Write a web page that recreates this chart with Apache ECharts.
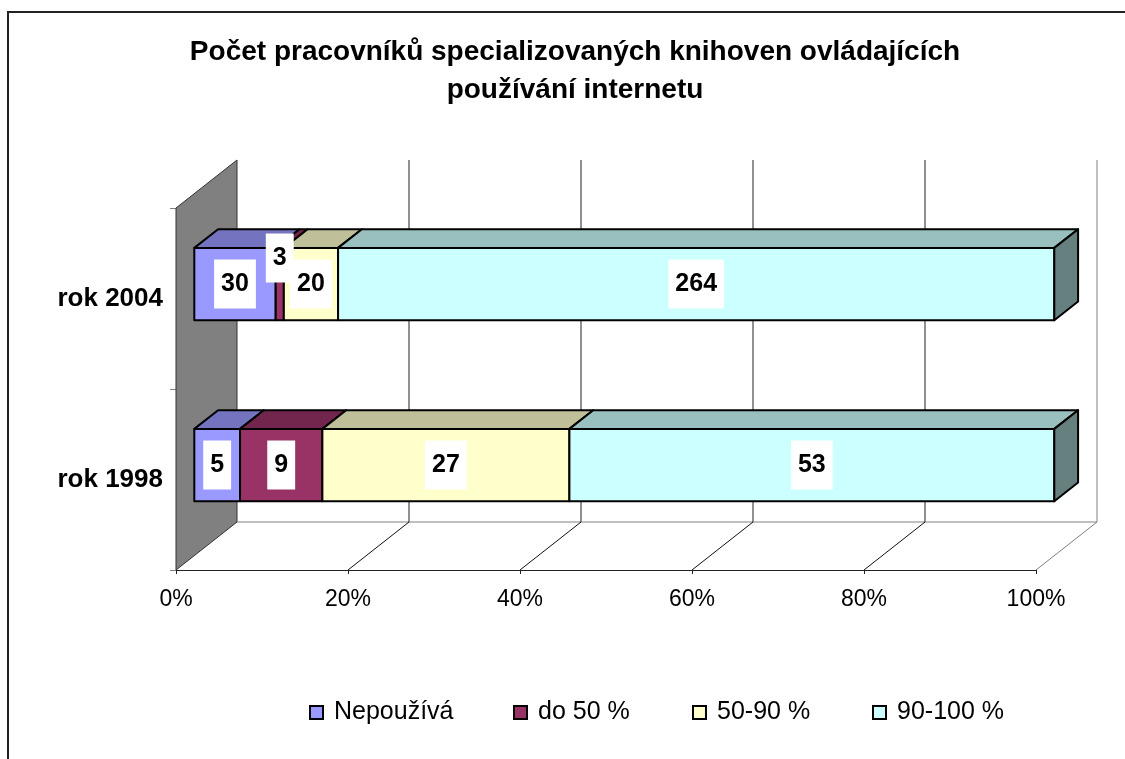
<!DOCTYPE html>
<html>
<head>
<meta charset="utf-8">
<title>Počet pracovníků specializovaných knihoven</title>
<script src="https://cdn.jsdelivr.net/npm/echarts@6/dist/echarts.min.js"></script>
<style>
  html, body { margin: 0; padding: 0; background: #fff; }
  #chart { width: 1125px; height: 759px; }
</style>
</head>
<body>
<div id="chart"></div>
<script>
// kategorie a řady (počty pracovníků)
const categories = ['rok 1998', 'rok 2004'];
const seriesNames = ['Nepoužívá', 'do 50 %', '50-90 %', '90-100 %'];
const nepouziva = [5, 30];
const do50 = [9, 3];
const od50do90 = [27, 20];
const od90do100 = [53, 264];
const xTicks = [0, 20, 40, 60, 80, 100];

const counts = [nepouziva, do50, od50do90, od90do100];
const FONT = '"Liberation Sans", Arial, sans-serif';

// barvy: čelo, horní plocha, bok
const frontColors = ['#9999FF', '#993366', '#FFFFCC', '#CCFFFF'];
const topColors = ['#7373BF', '#73264D', '#BFBF99', '#99BFBF'];
const sideColors = ['#4D4D80', '#4D1A33', '#808066', '#668080'];

// hloubka 3D (px) a poloha sloupce v hloubce
const DX = 61, DY = -48;
const FRONT = 0.3, DEPTH = 0.39;

const totals = categories.map((c, j) => counts.reduce((s, arr) => s + arr[j], 0));

// [start %, konec %, index kategorie, počet]
const segData = counts.map((arr, i) => arr.map((v, j) => {
  let start = 0;
  for (let k = 0; k < i; k++) start += counts[k][j];
  return [start / totals[j] * 100, (start + v) / totals[j] * 100, j, v];
}));
const labelData = [];
segData.forEach(rows => rows.forEach(r => labelData.push([(r[0] + r[1]) / 2, r[2], r[3], r[1] - r[0]])));

function renderWall(params, api) {
  const cs = params.coordSys;
  const v = api.value(0);
  const x = api.coord([v, 0])[0];
  const top = cs.y, bottom = cs.y + cs.height;
  const last = v === xTicks[xTicks.length - 1];
  const children = [];
  if (params.dataIndex === 0) {
    // levá boční stěna
    children.push({
      type: 'polygon',
      shape: { points: [[x, top], [x + DX, top + DY], [x + DX, bottom + DY], [x, bottom]] },
      style: { fill: '#808080', stroke: '#333', lineWidth: 1 }
    });
    children.push({
      type: 'line',
      shape: { x1: x + DX, y1: bottom + DY, x2: cs.x + cs.width + DX, y2: bottom + DY },
      style: { stroke: '#808080', lineWidth: 1 }
    });
  } else {
    children.push({
      type: 'line',
      shape: { x1: x + DX, y1: top + DY, x2: x + DX, y2: bottom + DY },
      style: { stroke: last ? '#808080' : '#222', lineWidth: 1 }
    });
    children.push({
      type: 'line',
      shape: { x1: x, y1: bottom, x2: x + DX, y2: bottom + DY },
      style: { stroke: last ? '#808080' : '#111', lineWidth: 1 }
    });
  }
  return { type: 'group', children: children };
}

function renderBar(si) {
  return function (params, api) {
    const cat = api.value(2);
    const a = api.coord([api.value(0), cat]);
    const b = api.coord([api.value(1), cat]);
    const h = api.size([0, 1])[1] * 0.4;
    const ox = DX * FRONT, oy = DY * FRONT;
    const bx = DX * DEPTH, by = DY * DEPTH;
    const x0 = a[0] + ox, x1 = b[0] + ox;
    const yt = a[1] + oy - h / 2, yb = a[1] + oy + h / 2;
    const line = { stroke: '#000', lineWidth: 2, lineJoin: 'round' };
    const children = [
      {
        type: 'polygon',
        shape: { points: [[x0, yt], [x1, yt], [x1 + bx, yt + by], [x0 + bx, yt + by]] },
        style: Object.assign({ fill: topColors[si] }, line)
      },
      {
        type: 'rect',
        shape: { x: x0, y: yt, width: x1 - x0, height: yb - yt },
        style: Object.assign({ fill: frontColors[si] }, line)
      }
    ];
    if (api.value(1) >= 99.999) {
      children.push({
        type: 'polygon',
        shape: { points: [[x1, yt], [x1 + bx, yt + by], [x1 + bx, yb + by], [x1, yb]] },
        style: Object.assign({ fill: sideColors[si] }, line)
      });
    }
    return { type: 'group', children: children };
  };
}

function renderLabel(params, api) {
  const p = api.coord([api.value(0), api.value(1)]);
  const w = api.size([api.value(3), 0])[0];
  let y = p[1] + DY * FRONT;
  if (w < 20) y -= 26; // úzký segment - popisek výš
  return {
    type: 'text',
    style: {
      text: String(api.value(2)),
      x: p[0] + DX * FRONT,
      y: y,
      align: 'center',
      verticalAlign: 'middle',
      fill: '#000',
      fontSize: 25,
      fontWeight: 'bold',
      fontFamily: FONT,
      backgroundColor: '#fff',
      padding: [12, 7, 12, 7]
    }
  };
}

const myChart = echarts.init(document.getElementById('chart'));
const legendLeft = [309, 513, 692, 872];

const option = {
  backgroundColor: '#fff',
  animation: false,
  title: {
    text: 'Počet pracovníků specializovaných knihoven ovládajících\npoužívání internetu',
    left: 575,
    top: 33,
    padding: 0,
    textAlign: 'center',
    textStyle: { fontSize: 28, fontWeight: 'bold', fontFamily: FONT, color: '#000', lineHeight: 38 }
  },
  legend: seriesNames.map((n, i) => ({
    data: [n],
    left: legendLeft[i],
    top: 700,
    padding: 0,
    icon: 'rect',
    itemWidth: 13,
    itemHeight: 13,
    itemStyle: { borderColor: '#000', borderWidth: 2 },
    textStyle: { fontSize: 25, color: '#000', fontFamily: FONT, padding: [0, 0, 0, 6] }
  })),
  grid: { left: 176, right: 89, top: 208, bottom: 189, containLabel: false },
  xAxis: {
    type: 'value',
    min: 0,
    max: 100,
    interval: 20,
    axisLine: { show: true, lineStyle: { color: '#222', width: 1 } },
    axisTick: { show: true, length: 4, lineStyle: { color: '#222' } },
    splitLine: { show: false },
    axisLabel: { formatter: '{value}%', fontSize: 23, color: '#000', fontFamily: FONT, margin: 18 }
  },
  yAxis: {
    type: 'category',
    data: categories,
    axisLine: { show: true, lineStyle: { color: '#808080' } },
    axisTick: { show: true, length: 6, lineStyle: { color: '#808080' } },
    axisLabel: { fontSize: 26, fontWeight: 'bold', color: '#000', fontFamily: FONT, margin: 13 }
  },
  series: [
    {
      name: 'stěny',
      type: 'custom',
      renderItem: renderWall,
      data: xTicks.map(v => [v]),
      silent: true,
      z: 1
    }
  ].concat(seriesNames.map((n, i) => ({
    name: n,
    type: 'custom',
    renderItem: renderBar(i),
    itemStyle: { color: frontColors[i] },
    data: segData[i],
    z: 2
  }))).concat([
    {
      name: 'popisky',
      type: 'custom',
      renderItem: renderLabel,
      data: labelData,
      silent: true,
      z: 5
    }
  ]),
  graphic: [
    {
      type: 'rect',
      shape: { x: 8, y: 12, width: 1200, height: 800 },
      style: { fill: 'none', stroke: '#222', lineWidth: 2 },
      silent: true
    }
  ]
};

myChart.setOption(option);
</script>
</body>
</html>
